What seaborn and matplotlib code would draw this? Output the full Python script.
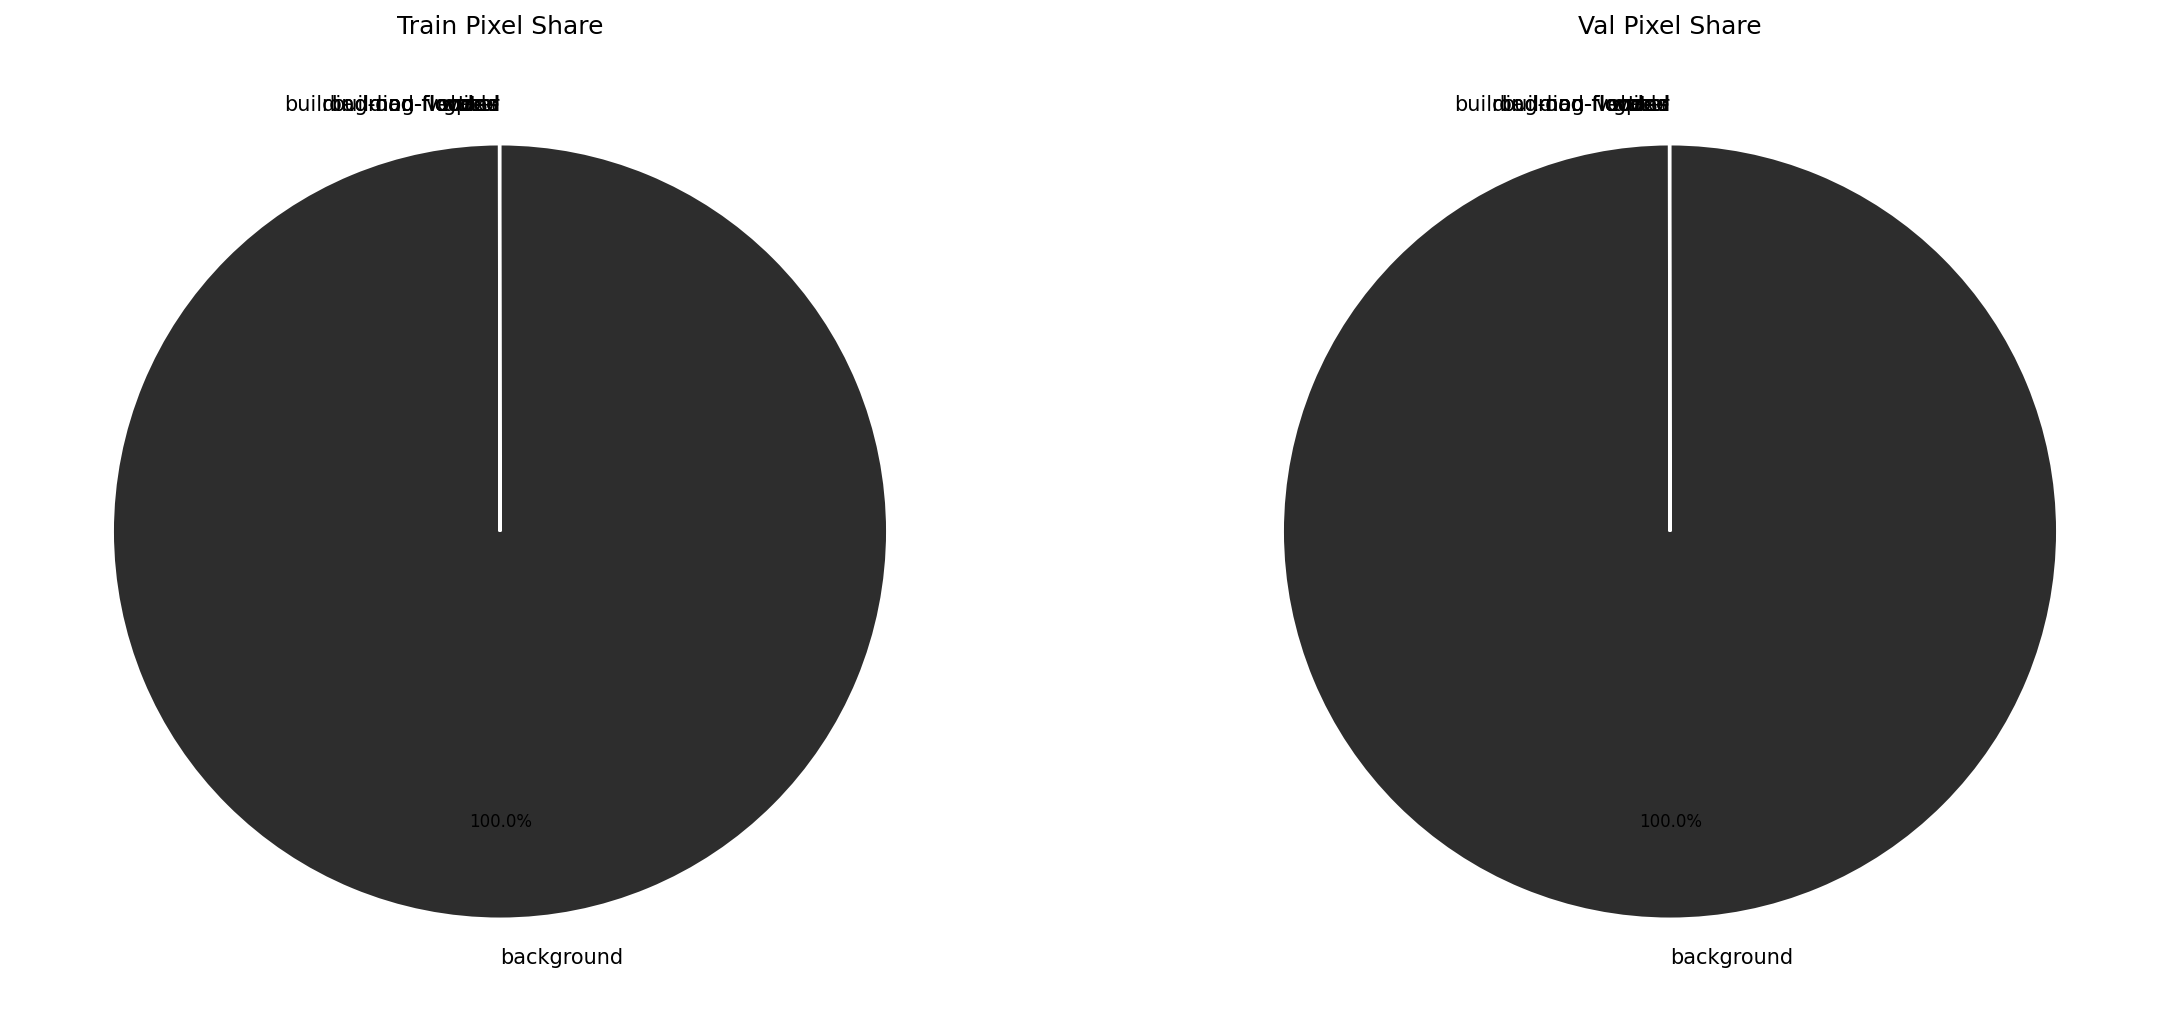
import numpy as np
import pandas as pd
import matplotlib
matplotlib.use('Agg')
import matplotlib.pyplot as plt
import seaborn as sns

sns.set_style('white')
plt.rcParams['text.color'] = 'black'

# class names, background last so it fills the pie
classes = ['building-flooded', 'building-non-flooded', 'road-flooded', 'road-non-flooded',
           'water', 'tree', 'vehicle', 'pool', 'grass', 'background']
# pixel share in percent (all non-background classes are practically zero)
train_share = [0.003, 0.004, 0.003, 0.004, 0.003, 0.004, 0.001, 0.001, 0.004, 99.973]
val_share = [0.003, 0.004, 0.003, 0.004, 0.003, 0.004, 0.001, 0.001, 0.004, 99.973]

colors = sns.color_palette('tab10', len(classes) - 1).as_hex() + ['#2d2d2d']

df = pd.DataFrame({'class': classes, 'train': train_share, 'val': val_share})

W, H = 2171, 1033
fig = plt.figure(figsize=(W / 150, H / 150), dpi=150)
side = 969
bottom = 17 / H
ax1 = fig.add_axes([15.5 / W, bottom, side / W, side / H])
ax2 = fig.add_axes([1185.5 / W, bottom, side / W, side / H])


def pct(p):
    return f'{p:.1f}%' if p >= 1 else ''


for ax, col, title in [(ax1, 'train', 'Train Pixel Share'), (ax2, 'val', 'Val Pixel Share')]:
    wedges, texts, autotexts = ax.pie(
        df[col], labels=df['class'], colors=colors, startangle=90,
        autopct=pct, pctdistance=0.75, labeldistance=1.1,
        wedgeprops={'edgecolor': 'white', 'linewidth': 1.5},
        textprops={'fontsize': 10, 'color': 'black'})
    for t in autotexts:
        t.set_fontsize(8)
    ax.set_title(title, fontsize=12, color='black')

fig.savefig('out.png', dpi=150)
